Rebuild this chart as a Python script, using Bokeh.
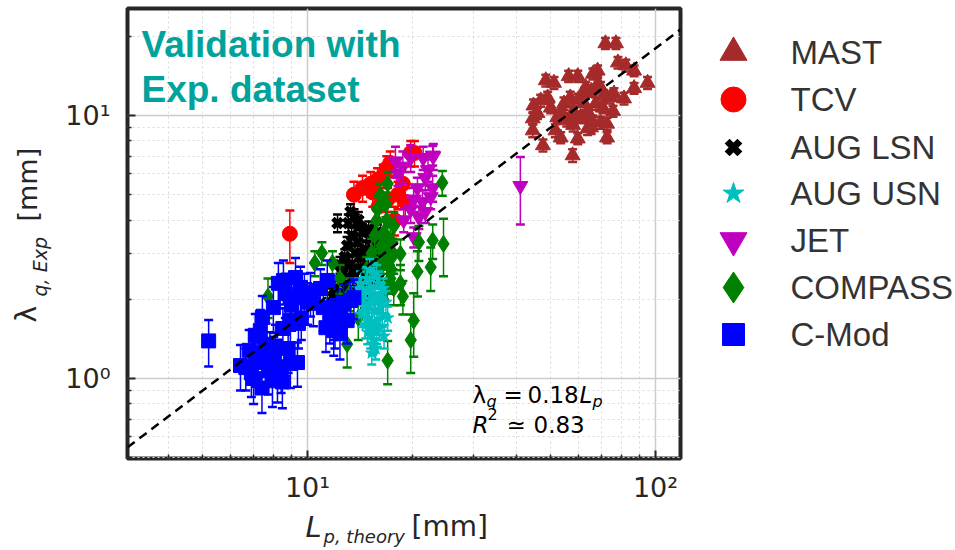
import numpy as np
from bokeh.plotting import figure
from bokeh.models import CustomJSTickFormatter, Range1d, FixedTicker
from bokeh.layouts import row, column
from bokeh.embed import file_html
from bokeh.resources import INLINE
from bokeh.core.properties import value

# ---------------- data ----------------
mast_x = [71.8, 77.0, 48.4, 51.1, 56.3, 59.8, 78.0, 82.2, 86.8, 94.9, 86.8, 81.2, 44.6, 44.4, 44.4, 47.5,
          57.8, 59.8, 63.8, 69.5, 72.6, 75.5, 74.0, 68.2, 66.1, 69.5, 65.3, 62.4, 58.1, 54.6, 52.2, 50.0,
          49.0, 51.6, 53.4, 55.6, 60.9, 64.2, 67.3, 70.6, 68.2, 62.8, 56.9, 46.8, 45.8, 72.6, 65.3,
          60.0, 63.0, 58.0, 54.0, 66.0, 71.0, 76.0]
mast_y = [18.8, 18.8, 13.6, 13.3, 14.1, 14.1, 15.9, 15.5, 14.8, 13.3, 12.7, 11.6, 10.9, 9.74, 8.77, 7.7,
          7.05, 8.17, 8.93, 9.4, 9.3, 10.4, 11.7, 14.8, 14.4, 12.8, 12.4, 11.1, 10.4, 11.1, 9.84, 10.7,
          11.7, 8.77, 8.24, 9.58, 9.84, 10.2, 11.1, 10.7, 13.2, 12.2, 11.7, 11.4, 10.2, 8.24, 9.0,
          11.5, 12.8, 9.2, 10.1, 9.5, 11.9, 12.1]
mast_err = [0.9, 0.9, 0.7, 0.7, 0.7, 0.7, 0.8, 0.8, 0.7, 0.7, 0.6, 0.6, 0.6, 0.5, 0.5, 0.4, 0.4, 0.4,
            0.5, 0.5, 0.5, 0.5, 0.6, 0.7, 0.7, 0.6, 0.6, 0.6, 0.5, 0.6, 0.5, 0.5, 0.6, 0.5, 0.4, 0.5,
            0.5, 0.5, 0.6, 0.5, 0.7, 0.6, 0.6, 0.6, 0.5, 0.4, 0.5, 0.6, 0.6, 0.5, 0.5, 0.5, 0.6, 0.6]

tcv_x = [8.9, 13.6, 14.4, 15.2, 15.4, 15.9, 16.5, 16.9, 17.3, 17.8, 18.8, 19.1, 19.8, 20.3, 14.6, 16.0, 17.0, 18.2]
tcv_y = [3.55, 5.0, 5.3, 5.5, 5.1, 5.7, 5.9, 6.3, 6.6, 4.0, 5.5, 4.7, 7.2, 7.2, 2.75, 4.5, 4.8, 5.0]
tcv_err = [0.8, 0.6, 0.6, 0.6, 0.6, 0.6, 0.6, 0.7, 0.7, 0.5, 0.6, 0.6, 0.8, 0.8, 0.4, 0.5, 0.5, 0.6]

lsn_x = [12.6, 12.8, 13.0, 13.2, 13.4, 13.5, 13.7, 13.9, 14.0, 14.2, 14.4, 14.5, 14.7, 14.9, 15.1, 15.3, 13.3,
         13.6, 13.1, 12.9, 13.8, 14.6, 15.5, 15.8, 13.0, 14.1, 14.8, 12.4, 13.6, 14.3, 16.2, 12.2, 12.0, 15.6,
         16.5, 15.9, 12.7, 11.8, 14.0, 15.0, 12.2, 16.8, 17.2, 16.0]
lsn_y = [2.5, 2.9, 3.2, 2.7, 3.5, 2.4, 3.0, 3.3, 2.6, 2.9, 3.6, 2.3, 3.1, 2.8, 3.4, 2.5, 4.3,
         4.1, 3.9, 2.2, 2.1, 2.0, 2.9, 3.2, 2.0, 3.8, 2.4, 2.7, 2.6, 2.2, 3.35, 3.9, 2.2, 2.6,
         3.0, 3.6, 1.95, 2.05, 4.0, 3.7, 2.0, 2.8, 3.3, 2.4]
lsn_err = [0.2, 0.2, 0.25, 0.2, 0.25, 0.2, 0.2, 0.25, 0.2, 0.2, 0.25, 0.2, 0.2, 0.2, 0.25, 0.2, 0.3,
           0.3, 0.3, 0.15, 0.15, 0.15, 0.2, 0.25, 0.15, 0.3, 0.2, 0.2, 0.2, 0.15, 0.25, 0.3, 0.15, 0.2,
           0.2, 0.25, 0.15, 0.15, 0.3, 0.25, 0.15, 0.2, 0.25, 0.2]

usn_x = [14.2, 14.5, 14.8, 15.0, 15.2, 15.5, 15.7, 16.0, 16.3, 14.6, 15.0, 15.3, 15.6, 15.9, 16.2,
         14.9, 15.2, 15.5, 15.8, 16.1, 15.4, 15.7, 14.4, 16.5, 15.1, 15.8, 16.4, 14.7, 15.5, 15.0,
         14.0, 16.8, 17.0, 14.3, 16.6, 15.3]
usn_y = [2.3, 2.1, 2.4, 1.9, 2.2, 2.5, 2.0, 2.3, 2.1, 1.8, 1.7, 1.6, 1.8, 1.65, 1.9,
         1.5, 1.45, 1.4, 1.5, 1.55, 1.35, 1.3, 2.0, 2.2, 2.6, 2.45, 1.75, 1.6, 2.05, 2.15,
         2.2, 1.95, 1.7, 1.75, 1.45, 1.25]
usn_err = [0.25, 0.2, 0.25, 0.2, 0.2, 0.25, 0.2, 0.25, 0.2, 0.2, 0.2, 0.18, 0.2, 0.18, 0.2,
           0.15, 0.15, 0.15, 0.15, 0.15, 0.12, 0.12, 0.2, 0.2, 0.25, 0.25, 0.18, 0.18, 0.2, 0.2,
           0.2, 0.2, 0.18, 0.18, 0.15, 0.12]

jet_x = [40.9, 19.8, 21.5, 22.9, 22.2, 21.8, 22.9, 22.6, 20.7, 20.2, 19.8, 21.4, 18.2, 18.8, 17.9, 20.9, 18.9, 21.8, 23.0, 20.2]
jet_y = [5.4, 6.9, 6.9, 7.05, 6.2, 5.8, 5.3, 4.9, 5.3, 4.8, 4.4, 4.7, 6.0, 6.4, 6.7, 4.1, 4.0, 4.3, 7.0, 3.45]
jet_err = [1.55, 0.8, 0.7, 0.6, 0.6, 0.6, 0.6, 0.5, 0.5, 0.5, 0.5, 0.5, 0.6, 0.9, 0.9, 0.4, 0.4, 0.4, 0.8, 0.3]

cmp_x = [7.7, 10.5, 11.0, 11.8, 12.4, 13.0, 13.2, 14.0, 15.6, 15.9, 16.2, 16.5, 16.5, 16.9, 16.9, 17.0, 17.3, 17.3, 17.7,
         17.7, 16.1, 15.8, 17.0, 18.5, 18.5, 18.8, 19.8, 20.2, 20.7, 20.9, 22.6, 22.9, 24.4, 24.6, 16.3, 17.5, 15.3, 14.8,
         16.8, 17.1, 17.4, 16.6, 17.6, 16.9]
cmp_y = [2.05, 2.75, 3.0, 2.75, 2.4, 1.35, 2.1, 1.7, 3.5, 4.4, 5.0, 3.0, 2.0, 2.75, 4.0, 1.17, 3.35, 2.4, 3.8,
         2.2, 2.6, 4.0, 5.5, 2.3, 2.98, 2.05, 1.4, 1.66, 2.55, 3.3, 2.65, 3.35, 5.55, 3.25, 3.2, 2.9, 3.0, 2.6,
         4.6, 3.1, 2.6, 3.6, 3.0, 2.2]
cmp_err = [0.35, 0.3, 0.3, 0.3, 0.3, 0.25, 0.3, 0.3, 0.4, 0.5, 0.5, 0.4, 0.3, 0.4, 0.5, 0.22, 0.4, 0.3, 0.5,
           0.3, 0.3, 0.5, 0.6, 0.4, 0.4, 0.3, 0.35, 0.45, 0.5, 0.5, 0.5, 0.5, 0.6, 0.8, 0.4, 0.4, 0.4, 0.3,
           0.5, 0.4, 0.3, 0.4, 0.4, 0.3]

cmod_x = [6.42, 6.65, 6.9, 7.08, 7.32, 7.42, 7.57, 7.73, 7.93, 8.09, 8.2, 8.47, 7.98, 8.25, 8.53, 8.64, 8.93,
          9.24, 9.36, 9.42, 9.55, 8.93, 9.36, 7.2, 7.6, 8.0, 8.5, 9.0, 7.0, 7.4, 9.8, 10.2, 10.4, 10.9, 11.1,
          11.3, 11.4, 11.6, 11.9, 12.2, 12.4, 12.7, 13.0, 13.3, 13.6, 11.9, 12.4, 10.0, 9.6, 5.2,
          6.8, 7.8, 8.4, 8.8, 7.1, 12.0]
cmod_y = [1.12, 1.10, 1.05, 1.46, 1.52, 1.71, 1.17, 1.07, 0.98, 1.33, 1.01, 0.97, 1.86, 2.30, 2.36, 2.10, 1.66,
          2.42, 2.03, 1.62, 2.22, 1.14, 1.15, 1.25, 1.35, 1.2, 1.55, 1.9, 1.0, 0.92, 2.1, 2.12, 1.93, 2.2, 1.86,
          1.56, 2.36, 1.66, 1.52, 1.84, 1.48, 1.93, 1.66, 1.98, 2.03, 1.70, 1.75, 1.95, 1.7, 1.39,
          1.28, 1.25, 1.1, 1.3, 1.15, 1.6]
cmod_err = [0.22, 0.2, 0.2, 0.3, 0.3, 0.35, 0.22, 0.2, 0.2, 0.27, 0.2, 0.2, 0.37, 0.45, 0.45, 0.4, 0.33,
            0.45, 0.4, 0.32, 0.44, 0.22, 0.22, 0.25, 0.27, 0.24, 0.3, 0.38, 0.2, 0.18, 0.4, 0.4, 0.35, 0.4, 0.35,
            0.3, 0.45, 0.3, 0.3, 0.35, 0.3, 0.35, 0.3, 0.35, 0.35, 0.3, 0.3, 0.35, 0.3, 0.28,
            0.25, 0.25, 0.22, 0.25, 0.22, 0.3]

fit_coef = 0.18
fit_r2 = 0.83

x_major = [10, 100]
x_minor = [4, 5, 6, 7, 8, 9, 20, 30, 40, 50, 60, 70, 80, 90]
y_major = [1, 10]
y_minor = [0.5, 0.6, 0.7, 0.8, 0.9, 2, 3, 4, 5, 6, 7, 8, 9, 20]

legend_names = ["MAST", "TCV", "AUG LSN", "AUG USN", "JET", "COMPASS", "C-Mod"]

# ---------------- layout geometry (page pixels) ----------------
W, H = 955, 550
YLAB_W = 60          # strip holding the y-axis title
LEG_X = 690          # legend panel starts here
MAIN_H = 505         # main figure height; x-axis title strip below
FL, FT, FW, FH = 127, 8, 553, 450
XR = (3.04, 118.0)
YR = (0.4964, 25.52)
lx0, lx1 = np.log10(XR[0]), np.log10(XR[1])
ly0, ly1 = np.log10(YR[0]), np.log10(YR[1])


def dx(px):
    return 10 ** (lx0 + (px - FL) / FW * (lx1 - lx0))


def dy(py):
    return 10 ** (ly1 - (py - FT) / FH * (ly1 - ly0))


def put(fig, x, y, s, size, font="DejaVu Sans", style="normal", color="#262626", angle=0.0):
    # y (or x for rotated text) is the vertical middle of the text line
    fig.text(x=[x], y=[y], text=[s], text_font=value(font), text_font_size=value("%dpx" % size),
             text_font_style=value(style), text_color=value(color), angle=angle,
             text_baseline=value("middle"), text_align=value("left"))


def strip(width, height, xr, yr, left=0, right=0):
    f = figure(width=width, height=height, x_range=Range1d(*xr), y_range=Range1d(*yr),
               toolbar_location=None, output_backend="svg", x_axis_location=None, y_axis_location=None,
               min_border=0, min_border_left=left, min_border_right=right)
    f.outline_line_color = None
    f.xgrid.visible = False
    f.ygrid.visible = False
    f.background_fill_color = "white"
    f.border_fill_color = "white"
    return f


# ---------------- main plot ----------------
p = figure(width=LEG_X - YLAB_W, height=MAIN_H, frame_width=FW, frame_height=FH,
           x_axis_type="log", y_axis_type="log",
           x_range=Range1d(*XR), y_range=Range1d(*YR),
           toolbar_location=None, output_backend="svg",
           min_border_left=FL - YLAB_W, min_border_top=FT, min_border_right=LEG_X - FL - FW,
           min_border_bottom=MAIN_H - FT - FH)
p.outline_line_color = "#262626"
p.outline_line_width = 4
p.background_fill_color = "white"
p.border_fill_color = "white"

xt = FixedTicker(ticks=x_major, minor_ticks=x_minor)
yt = FixedTicker(ticks=y_major, minor_ticks=y_minor)
p.xaxis.ticker = xt
p.yaxis.ticker = yt
p.xgrid.ticker = xt
p.ygrid.ticker = yt
fmt = CustomJSTickFormatter(code="""
const e = Math.round(Math.log10(tick));
const sup = {"0":"\u2070","1":"\u00b9","2":"\u00b2","3":"\u00b3","-":"\u207b"};
return "10" + String(e).split("").map(c => sup[c]).join("");
""")
for ax in (p.xaxis, p.yaxis):
    ax.formatter = fmt
    ax.axis_line_color = None
    ax.major_tick_in = 8
    ax.major_tick_out = 0
    ax.minor_tick_in = 4
    ax.minor_tick_out = 0
    ax.major_tick_line_color = "#262626"
    ax.major_tick_line_width = 2
    ax.minor_tick_line_color = "#262626"
    ax.minor_tick_line_width = 1.5
    ax.major_label_text_font = "DejaVu Sans"
    ax.major_label_text_font_size = "27px"
    ax.major_label_text_color = "#262626"
p.xaxis.major_label_standoff = 13
p.yaxis.major_label_standoff = 17

for g in (p.xgrid, p.ygrid):
    g.grid_line_color = "#cccccc"
    g.grid_line_width = 1.5
    g.minor_grid_line_color = "#d9d9d9"
    g.minor_grid_line_dash = "2 3"
    g.minor_grid_line_width = 1


def series(xs, ys, es, color, marker, size, line_width=1.0, fill=True):
    xs = np.array(xs, dtype=float)
    ys = np.array(ys, dtype=float)
    es = np.array(es, dtype=float)
    p.segment(x0=xs, y0=ys - es, x1=xs, y1=ys + es, line_color=color, line_width=1.5)
    p.scatter(x=np.concatenate([xs, xs]), y=np.concatenate([ys - es, ys + es]), marker="dash",
              size=9, line_color=color, line_width=2.5)
    if fill:
        p.scatter(x=xs, y=ys, marker=marker, size=size, fill_color=color, line_color=color,
                  line_width=line_width)
    else:
        p.scatter(x=xs, y=ys, marker=marker, size=size, line_color=color, line_width=line_width)


series(mast_x, mast_y, mast_err, "#a52a2a", "triangle", 15)
series(tcv_x, tcv_y, tcv_err, "#ff0000", "circle", 15)
series(lsn_x, lsn_y, lsn_err, "#000000", "x", 13, line_width=5, fill=False)
series(jet_x, jet_y, jet_err, "#bf00bf", "inverted_triangle", 15)
series(cmp_x, cmp_y, cmp_err, "#008000", "diamond", 17)
series(usn_x, usn_y, usn_err, "#00bfbf", "star", 13)
series(cmod_x, cmod_y, cmod_err, "#0000ff", "square", 14)

# fit line
fx = np.array([XR[0], XR[1]])
p.line(fx, fit_coef * fx, line_color="black", line_width=2.5, line_dash="9 6")

# texts inside the frame (positions given as page pixels of the text line's middle)
teal = "#00a39b"
put(p, dx(141), dy(44), "Validation with", 37, font="Liberation Sans", style="bold", color=teal)
put(p, dx(141), dy(89), "Exp. dataset", 37, font="Liberation Sans", style="bold", color=teal)

put(p, dx(472), dy(394), "\u03bb", 23, color="black")
put(p, dx(486), dy(401), "q", 16, style="italic", color="black")
put(p, dx(503), dy(394), "=", 23, color="black")
put(p, dx(527), dy(394), "%.2f" % fit_coef, 23, color="black")
put(p, dx(579), dy(394), "L", 23, style="italic", color="black")
put(p, dx(592), dy(401), "p", 16, style="italic", color="black")
put(p, dx(472), dy(424), "R", 23, style="italic", color="black")
put(p, dx(487), dy(413), "2", 16, color="black")
put(p, dx(506), dy(424), "\u2243", 23, color="black")
put(p, dx(533), dy(424), "%.2f" % fit_r2, 23, color="black")

# ---------------- y-axis title strip ----------------
ylab = strip(YLAB_W, H, (0, YLAB_W), (0, H))
put(ylab, 26, H - 322, "\u03bb", 28, angle=np.pi / 2)
put(ylab, 39, H - 296, "q, Exp", 19, style="italic", angle=np.pi / 2)
put(ylab, 27, H - 221, "[mm]", 27, angle=np.pi / 2)

# ---------------- x-axis title strip (same side borders as the main plot) ----------------
xlab = strip(LEG_X - YLAB_W, H - MAIN_H, (FL, FL + FW), (0, H - MAIN_H),
             left=FL - YLAB_W, right=LEG_X - FL - FW)
put(xlab, 305, H - 526, "L", 29, style="italic")
put(xlab, 323, H - 536, "p, theory", 18, style="italic")
put(xlab, 411, H - 526, "[mm]", 28)

# ---------------- legend panel ----------------
leg = strip(W - LEG_X, H, (LEG_X, W), (0, H))
rows_y = [52, 99, 147, 193, 240, 287, 334]
mk = [("triangle", "#a52a2a", 27, 1), ("circle", "#ff0000", 25, 1), ("x", "#000000", 18, 7),
      ("star", "#00bfbf", 22, 1), ("inverted_triangle", "#bf00bf", 27, 1), ("diamond", "#008000", 31, 1),
      ("square", "#0000ff", 22, 1)]
for (m, c, s, lw), yy, name in zip(mk, rows_y, legend_names):
    if m == "x":
        leg.scatter([733], [H - yy], marker=m, size=s, line_color=c, line_width=lw)
    else:
        leg.scatter([733], [H - yy], marker=m, size=s, fill_color=c, line_color=c, line_width=lw)
    put(leg, 790, H - yy, name, 33, font="Liberation Sans", color="#333333")

layout = row(ylab, column(p, xlab), leg)
open("out.html", "w").write(file_html(layout, INLINE))
